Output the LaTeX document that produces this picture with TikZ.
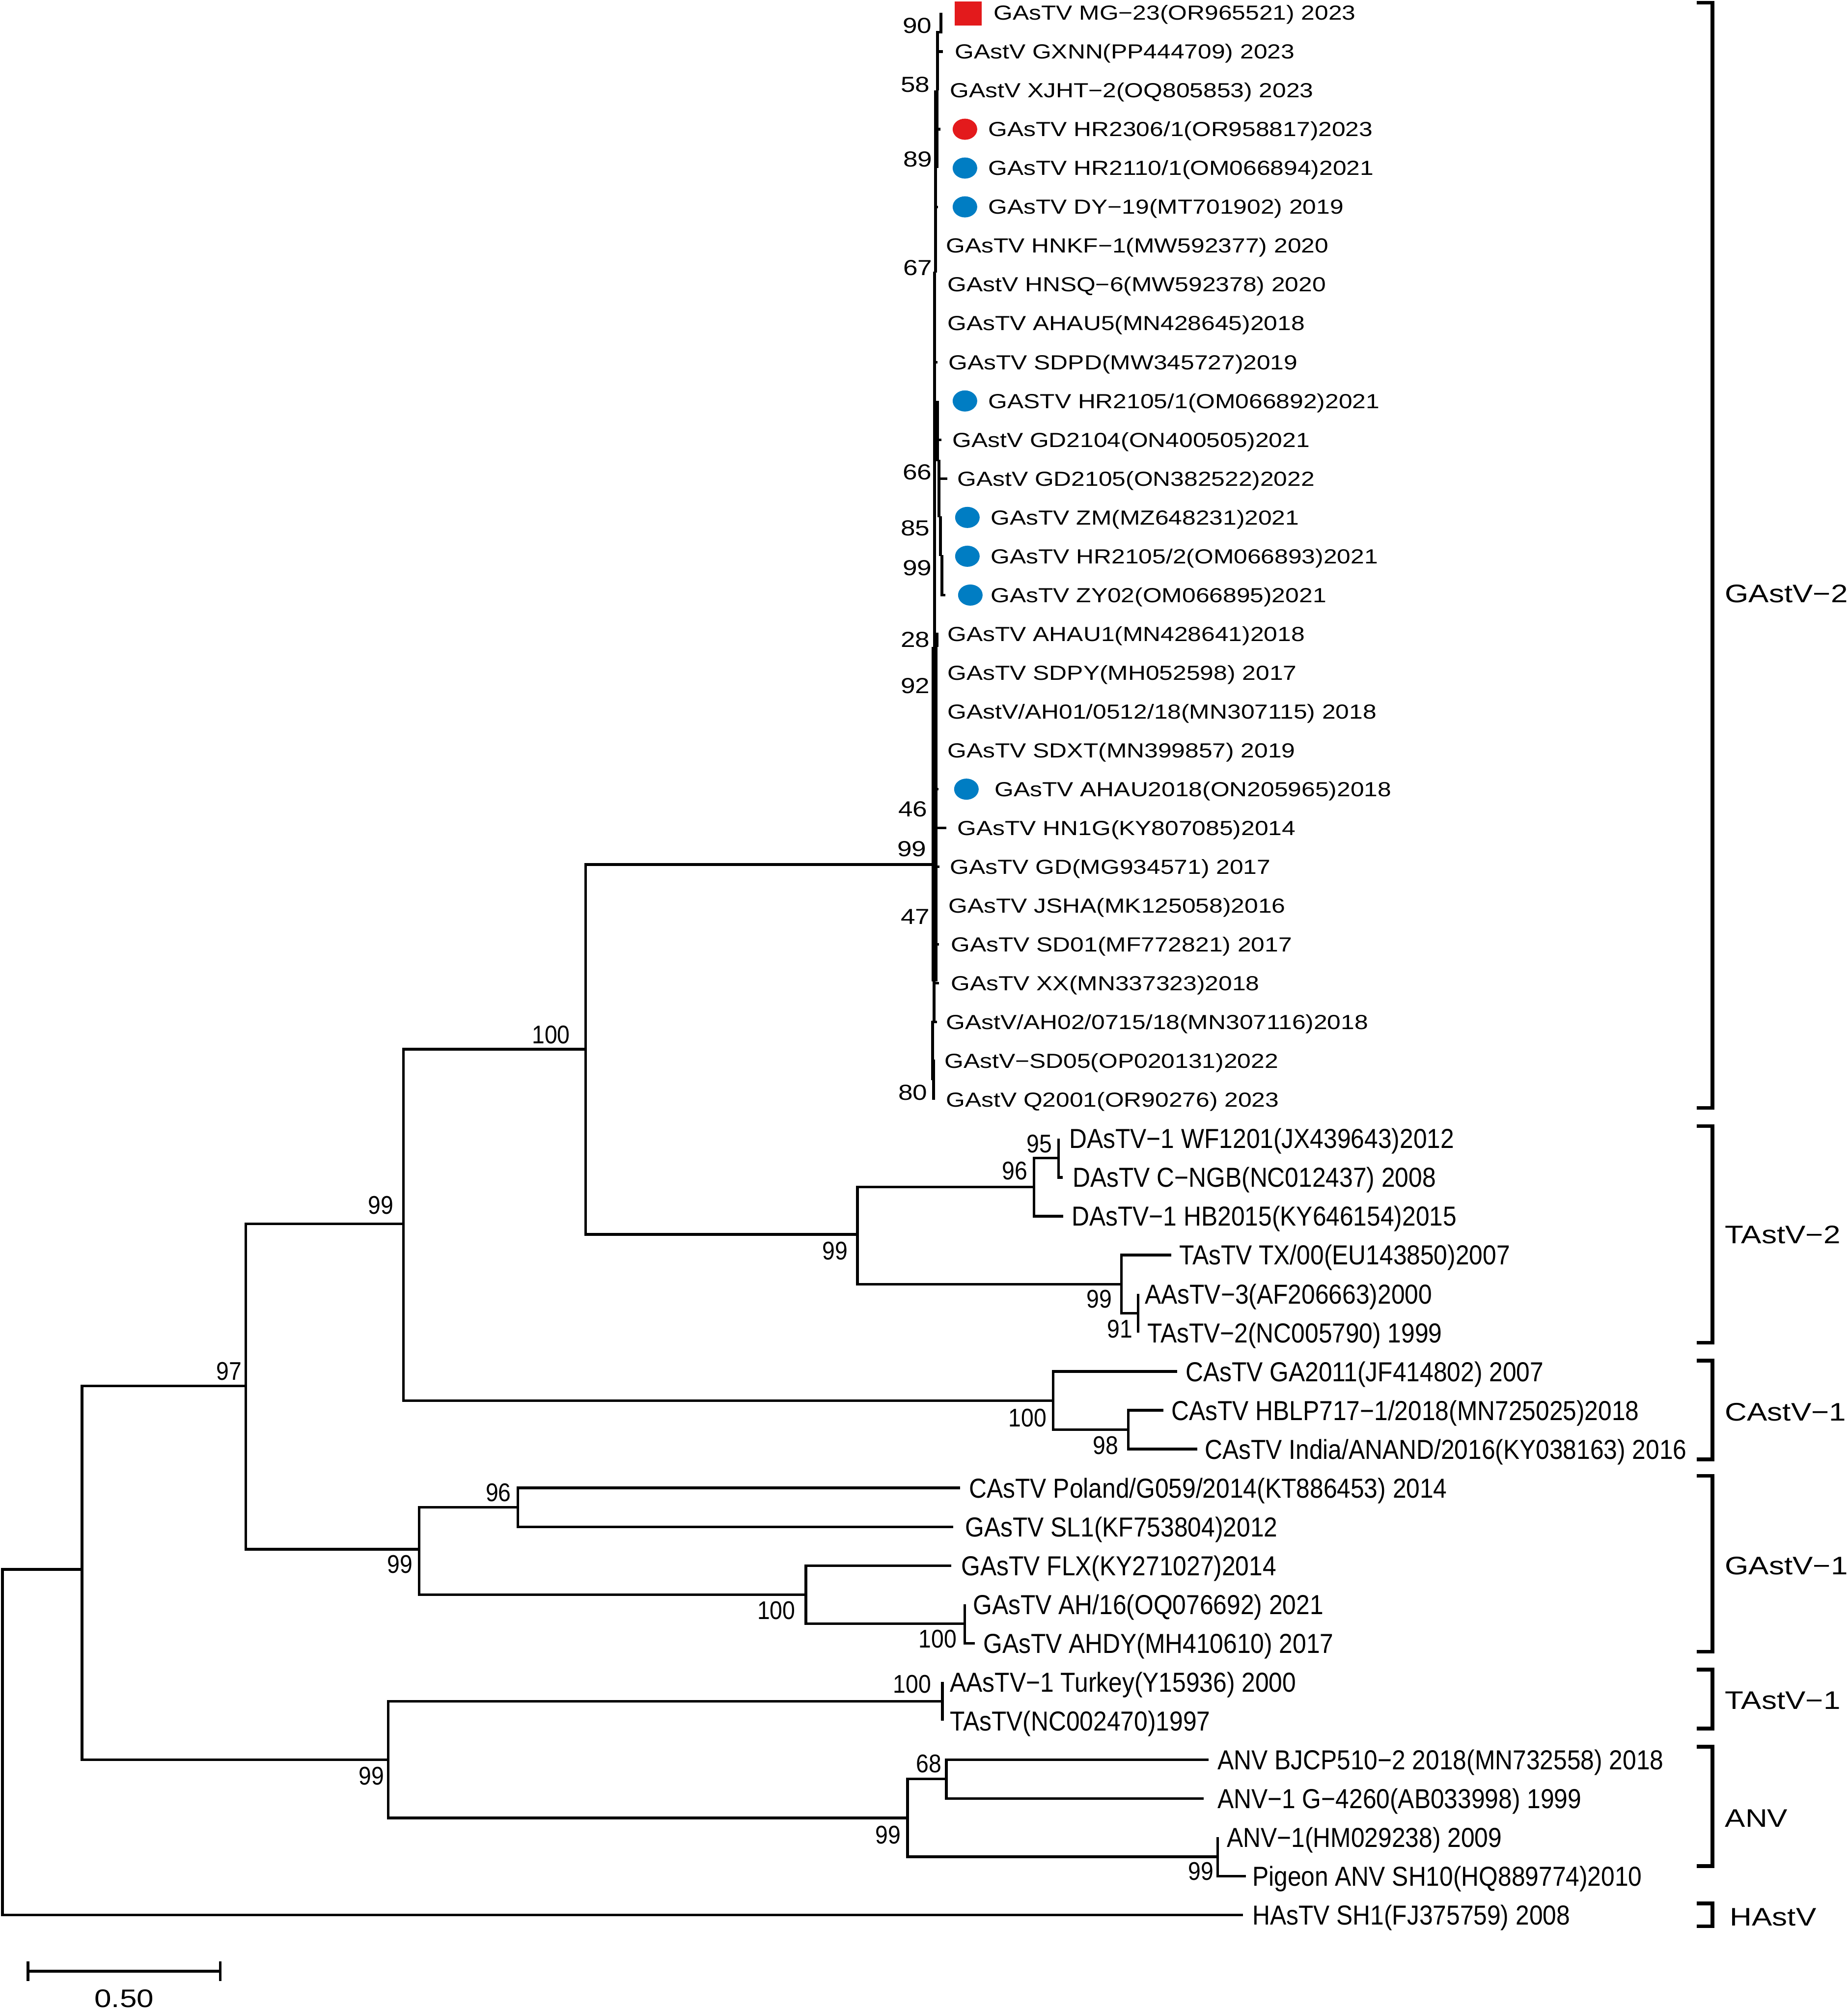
\documentclass[tikz,border=0pt]{standalone}
\usepackage{fontspec}
\setmainfont{Liberation Sans}
\newfontfamily\tipup[FakeStretch=1.2]{Liberation Sans}
\newfontfamily\tiplo[FakeStretch=0.89]{Liberation Sans}
\definecolor{mkred}{RGB}{227,26,28}
\definecolor{mkblue}{RGB}{0,125,195}
\tikzset{
	br/.style={line width=1.5pt},
	brk/.style={line width=2.2pt},
	dot/.style={x radius=0.25cm, y radius=0.215cm},
	tipA/.style={anchor=base west, inner sep=0pt, yshift=-4.2pt, font=\tipup\fontsize{11.8}{12}\selectfont},
	tipB/.style={anchor=base west, inner sep=0pt, yshift=-5.7pt, font=\tiplo\fontsize{15.9}{16}\selectfont},
	bsA/.style={anchor=east, inner sep=0pt, font=\tipup\fontsize{12.6}{13}\selectfont},
	bsB/.style={anchor=east, inner sep=0pt, font=\tiplo\fontsize{14.8}{15}\selectfont},
	clade/.style={anchor=west, inner sep=0pt, font=\tipup\fontsize{14.7}{15}\selectfont},
}
\begin{document}
\begin{tikzpicture}[x=0.01cm,y=-0.7903cm]
		\useasboundingbox (0,-0.329) rectangle (3765,51.475);
		\coordinate (root) at (5,44.55);
		\coordinate (n1) at (167,40.1);
		\coordinate (n97) at (501,35.37);
		\coordinate (n99a) at (822,31.2);
		\coordinate (n100a) at (1193,26.7);
		\coordinate (nG2) at (1898,21.94);
		\coordinate (nT2) at (1747,31.47);
		\coordinate (nD) at (2107,30.25);
		\coordinate (n95) at (2157,29.5);
		\coordinate (nT) at (2285,32.75);
		\coordinate (n91) at (2319,33.5);
		\coordinate (nC1) at (2146,35.75);
		\coordinate (n98) at (2299,36.5);
		\coordinate (nG1) at (854,39.58);
		\coordinate (n96b) at (1055,38.5);
		\coordinate (n100b) at (1642,40.75);
		\coordinate (n100c) at (1966,41.5);
		\coordinate (nAT) at (791,45);
		\coordinate (n100d) at (1920,43.5);
		\coordinate (nA) at (1849,46.5);
		\coordinate (n68) at (1928,45.5);
		\coordinate (n99d) at (2481,47.5);
		\coordinate (t29) at (2157,29);
		\coordinate (t30) at (2165,30);
		\coordinate (t31) at (2166,31);
		\coordinate (t32) at (2386,32);
		\coordinate (t33) at (2319,33);
		\coordinate (t34) at (2319,34);
		\coordinate (t35) at (2398,35);
		\coordinate (t36) at (2370,36);
		\coordinate (t37) at (2439,37);
		\coordinate (t38) at (1956,38);
		\coordinate (t39) at (1942,39);
		\coordinate (t40) at (1938,40);
		\coordinate (t41) at (1966,41);
		\coordinate (t42) at (1986,42);
		\coordinate (t43) at (1920,43);
		\coordinate (t44) at (1920,44);
		\coordinate (t45) at (2462,45);
		\coordinate (t46) at (2452,46);
		\coordinate (t47) at (2481,47);
		\coordinate (t48) at (2538,48);
		\coordinate (t49) at (2532,49);

		\draw[br] (root) |- (n1);
		\draw[br] (root) |- (t49);
		\draw[br] (n1) |- (n97);
		\draw[br] (n1) |- (nAT);
		\draw[br] (n97) |- (n99a);
		\draw[br] (n97) |- (nG1);
		\draw[br] (n99a) |- (n100a);
		\draw[br] (n99a) |- (nC1);
		\draw[br] (n100a) |- (nG2);
		\draw[br] (n100a) |- (nT2);
		\draw[br] (nT2) |- (nD);
		\draw[br] (nT2) |- (nT);
		\draw[br] (nD) |- (n95);
		\draw[br] (nD) |- (t31);
		\draw[br] (n95) |- (t29);
		\draw[br] (n95) |- (t30);
		\draw[br] (nT) |- (t32);
		\draw[br] (nT) |- (n91);
		\draw[br] (n91) |- (t33);
		\draw[br] (n91) |- (t34);
		\draw[br] (nC1) |- (t35);
		\draw[br] (nC1) |- (n98);
		\draw[br] (n98) |- (t36);
		\draw[br] (n98) |- (t37);
		\draw[br] (nG1) |- (n96b);
		\draw[br] (nG1) |- (n100b);
		\draw[br] (n96b) |- (t38);
		\draw[br] (n96b) |- (t39);
		\draw[br] (n100b) |- (t40);
		\draw[br] (n100b) |- (n100c);
		\draw[br] (n100c) |- (t41);
		\draw[br] (n100c) |- (t42);
		\draw[br] (nAT) |- (n100d);
		\draw[br] (nAT) |- (nA);
		\draw[br] (n100d) |- (t43);
		\draw[br] (n100d) |- (t44);
		\draw[br] (nA) |- (n68);
		\draw[br] (nA) |- (n99d);
		\draw[br] (n68) |- (t45);
		\draw[br] (n68) |- (t46);
		\draw[br] (n99d) |- (t47);
		\draw[br] (n99d) |- (t48);

		% GAstV-2 comb
		\draw[br] (1917,0) -- (1917,0.5) -- (1910,0.5) -- (1910,2);
		\draw[br] (1910,1) -- (1921,1);
		\draw[br,line width=2.6pt] (1908,2) -- (1908,4);
		\draw[br] (1908,3) -- (1916,3);
		\draw[br] (1908,4) -- (1906,4) -- (1906,6.7);
		\draw[br] (1906,5) -- (1911,5);
		\draw[br] (1906,6.7) -- (1904,6.7) -- (1904,16.33);
		\draw[br] (1904,9) -- (1910,9);
		\draw[br] (1910,10) -- (1910,11.55);
		\draw[br] (1910,11) -- (1918,11);
		\draw[br] (1910,11.55) -- (1913,11.55) -- (1913,13);
		\draw[br] (1913,12) -- (1930,12);
		\draw[br] (1913,13) -- (1916,13) -- (1916,14);
		\draw[br] (1916,14) -- (1919,14) -- (1919,15) -- (1926,15);
		\draw[br] (1904,16) -- (1909,16) -- (1909,16.33);
		\draw[br,line width=3.6pt] (1904,16.33) -- (1904,24.95);
		\draw[br] (1904,20) -- (1912,20);
		\draw[br] (1904,21) -- (1928,21);
		\draw[br] (1904,22) -- (1914,22);
		\draw[br] (1904,24) -- (1913,24);
		\draw[br] (1904,25) -- (1913,25);
		\draw[br] (1903,24.95) -- (1903,26) -- (1909,26);
		\draw[br] (1903,26) -- (1900,26) -- (1900,27.5);
		\draw[br] (1900,27) -- (1902,27) -- (1902,28);

		\fill[mkred] (1945,-0.29) rectangle (2000,0.33);
		\fill[mkred] (1966,3) ellipse [dot];
		\fill[mkblue] (1966,4) ellipse [dot];
		\fill[mkblue] (1966,5) ellipse [dot];
		\fill[mkblue] (1966,10) ellipse [dot];
		\fill[mkblue] (1971,13) ellipse [dot];
		\fill[mkblue] (1971,14) ellipse [dot];
		\fill[mkblue] (1977,15) ellipse [dot];
		\fill[mkblue] (1969,20) ellipse [dot];

		\node[tipA] (l0) at (2024,0) {GAsTV MG−23(OR965521) 2023};
		\node[tipA] (l1) at (1945,1) {GAstV GXNN(PP444709) 2023};
		\node[tipA] (l2) at (1935,2) {GAstV XJHT−2(OQ805853) 2023};
		\node[tipA] (l3) at (2013,3) {GAsTV HR2306/1(OR958817)2023};
		\node[tipA] (l4) at (2013,4) {GAsTV HR2110/1(OM066894)2021};
		\node[tipA] (l5) at (2013,5) {GAsTV DY−19(MT701902) 2019};
		\node[tipA] (l6) at (1927,6) {GAsTV HNKF−1(MW592377) 2020};
		\node[tipA] (l7) at (1930,7) {GAstV HNSQ−6(MW592378) 2020};
		\node[tipA] (l8) at (1930,8) {GAsTV AHAU5(MN428645)2018};
		\node[tipA] (l9) at (1932,9) {GAsTV SDPD(MW345727)2019};
		\node[tipA] (l10) at (2013,10) {GASTV HR2105/1(OM066892)2021};
		\node[tipA] (l11) at (1940,11) {GAstV GD2104(ON400505)2021};
		\node[tipA] (l12) at (1950,12) {GAstV GD2105(ON382522)2022};
		\node[tipA] (l13) at (2018,13) {GAsTV ZM(MZ648231)2021};
		\node[tipA] (l14) at (2018,14) {GAsTV HR2105/2(OM066893)2021};
		\node[tipA] (l15) at (2018,15) {GAsTV ZY02(OM066895)2021};
		\node[tipA] (l16) at (1930,16) {GAsTV AHAU1(MN428641)2018};
		\node[tipA] (l17) at (1930,17) {GAsTV SDPY(MH052598) 2017};
		\node[tipA] (l18) at (1930,18) {GAstV/AH01/0512/18(MN307115) 2018};
		\node[tipA] (l19) at (1930,19) {GAsTV SDXT(MN399857) 2019};
		\node[tipA] (l20) at (2026,20) {GAsTV AHAU2018(ON205965)2018};
		\node[tipA] (l21) at (1950,21) {GAsTV HN1G(KY807085)2014};
		\node[tipA] (l22) at (1935,22) {GAsTV GD(MG934571) 2017};
		\node[tipA] (l23) at (1932,23) {GAsTV JSHA(MK125058)2016};
		\node[tipA] (l24) at (1937,24) {GAsTV SD01(MF772821) 2017};
		\node[tipA] (l25) at (1937,25) {GAsTV XX(MN337323)2018};
		\node[tipA] (l26) at (1927,26) {GAstV/AH02/0715/18(MN307116)2018};
		\node[tipA] (l27) at (1924,27) {GAstV−SD05(OP020131)2022};
		\node[tipA] (l28) at (1927,28) {GAstV Q2001(OR90276) 2023};
		\node[tipB] (l29) at (2178,29) {DAsTV−1 WF1201(JX439643)2012};
		\node[tipB] (l30) at (2185,30) {DAsTV C−NGB(NC012437) 2008};
		\node[tipB] (l31) at (2183,31) {DAsTV−1 HB2015(KY646154)2015};
		\node[tipB] (l32) at (2402,32) {TAsTV TX/00(EU143850)2007};
		\node[tipB] (l33) at (2332,33) {AAsTV−3(AF206663)2000};
		\node[tipB] (l34) at (2337,34) {TAsTV−2(NC005790) 1999};
		\node[tipB] (l35) at (2415,35) {CAsTV GA2011(JF414802) 2007};
		\node[tipB] (l36) at (2386,36) {CAsTV HBLP717−1/2018(MN725025)2018};
		\node[tipB] (l37) at (2454,37) {CAsTV India/ANAND/2016(KY038163) 2016};
		\node[tipB] (l38) at (1974,38) {CAsTV Poland/G059/2014(KT886453) 2014};
		\node[tipB] (l39) at (1966,39) {GAsTV SL1(KF753804)2012};
		\node[tipB] (l40) at (1958,40) {GAsTV FLX(KY271027)2014};
		\node[tipB] (l41) at (1982,41) {GAsTV AH/16(OQ076692) 2021};
		\node[tipB] (l42) at (2003,42) {GAsTV AHDY(MH410610) 2017};
		\node[tipB] (l43) at (1935,43) {AAsTV−1 Turkey(Y15936) 2000};
		\node[tipB] (l44) at (1935,44) {TAsTV(NC002470)1997};
		\node[tipB] (l45) at (2480,45) {ANV BJCP510−2 2018(MN732558) 2018};
		\node[tipB] (l46) at (2480,46) {ANV−1 G−4260(AB033998) 1999};
		\node[tipB] (l47) at (2499,47) {ANV−1(HM029238) 2009};
		\node[tipB] (l48) at (2551,48) {Pigeon ANV SH10(HQ889774)2010};
		\node[tipB] (l49) at (2551,49) {HAsTV SH1(FJ375759) 2008};

		\node[bsA] (b90) at (1899,0.33) {90};
		\node[bsA] (b58) at (1895,1.85) {58};
		\node[bsA] (b89) at (1900,3.77) {89};
		\node[bsA] (b67) at (1900,6.57) {67};
		\node[bsA] (b66) at (1899,11.83) {66};
		\node[bsA] (b85) at (1895,13.28) {85};
		\node[bsA] (b99u) at (1899,14.3) {99};
		\node[bsA] (b28) at (1895,16.15) {28};
		\node[bsA] (b92) at (1895,17.34) {92};
		\node[bsA] (b46) at (1890,20.52) {46};
		\node[bsA] (b99g) at (1888,21.54) {99};
		\node[bsA] (b47) at (1895,23.29) {47};
		\node[bsA] (b80) at (1890,27.82) {80};
		\node[bsB] (b100a) at (1162,26.33) {100};
		\node[bsB] (b99t) at (1728,31.9) {99};
		\node[bsB] (b96d) at (2094,29.83) {96};
		\node[bsB] (b95) at (2144,29.14) {95};
		\node[bsB] (b99tt) at (2266,33.13) {99};
		\node[bsB] (b91) at (2308,33.9) {91};
		\node[bsB] (b100c) at (2133,36.2) {100};
		\node[bsB] (b98) at (2279,36.9) {98};
		\node[bsB] (b99a) at (802,30.72) {99};
		\node[bsB] (b97) at (493,34.99) {97};
		\node[bsB] (b96g) at (1042,38.12) {96};
		\node[bsB] (b99g1) at (841,39.97) {99};
		\node[bsB] (b100b) at (1621,41.16) {100};
		\node[bsB] (b100h) at (1950,41.89) {100};
		\node[bsB] (b100d) at (1898,43.05) {100};
		\node[bsB] (b99at) at (783,45.42) {99};
		\node[bsB] (b68) at (1919,45.1) {68};
		\node[bsB] (b99n) at (1836,46.94) {99};
		\node[bsB] (b99p) at (2473,47.87) {99};

		\draw[brk] (3457,-0.26) -- (3489,-0.26) -- (3489,28.21) -- (3457,28.21);
		\draw[brk] (3457,28.68) -- (3489,28.68) -- (3489,34.26) -- (3457,34.26);
		\draw[brk] (3457,34.72) -- (3489,34.72) -- (3489,37.26) -- (3457,37.26);
		\draw[brk] (3457,37.69) -- (3489,37.69) -- (3489,42.22) -- (3457,42.22);
		\draw[brk] (3457,42.68) -- (3489,42.68) -- (3489,44.2) -- (3457,44.2);
		\draw[brk] (3457,44.67) -- (3489,44.67) -- (3489,47.74) -- (3457,47.74);
		\draw[brk] (3457,48.7) -- (3489,48.7) -- (3489,49.29) -- (3457,49.29);
		\node[clade] (cG2) at (3514,14.97) {GAstV−2};
		\node[clade] (cT2) at (3514,31.48) {TAstV−2};
		\node[clade] (cC1) at (3514,36.04) {CAstV−1};
		\node[clade] (cG1) at (3514,40.01) {GAstV−1};
		\node[clade] (cT1) at (3514,43.48) {TAstV−1};
		\node[clade] (cA) at (3514,46.51) {ANV};
		\node[clade] (cH) at (3524,49.06) {HAstV};

		\coordinate (s0) at (57,50.45);
		\coordinate (s1) at (449,50.45);
		\draw[br] (s0) -- (s1);
		\draw[br] (57,50.2) -- (57,50.7);
		\draw[br] (449,50.2) -- (449,50.7);
		\node[clade,anchor=center] (sl) at (253,51.15) {0.50};
	\end{tikzpicture}
\end{document}
